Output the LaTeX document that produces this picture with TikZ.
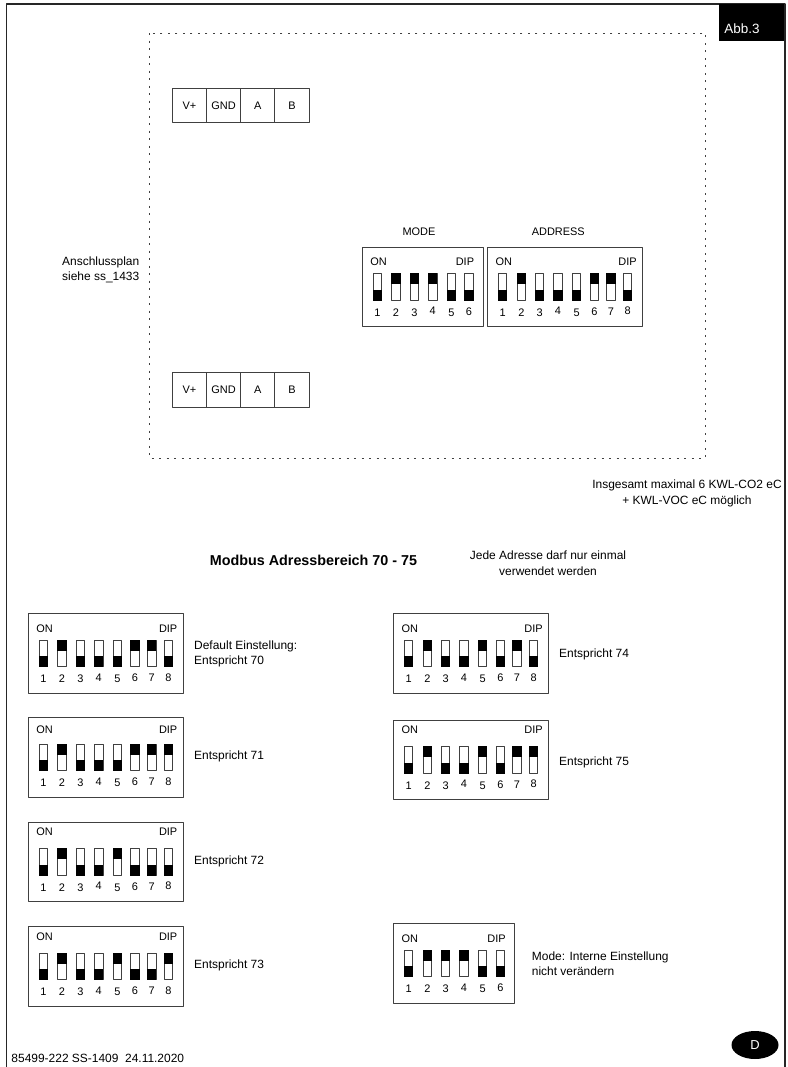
\documentclass[tikz,border=0pt]{standalone}
\usepackage{fontspec}
\setmainfont{Liberation Sans}
\usepackage{tikz}
\usetikzlibrary{shapes.geometric}
\definecolor{lineg}{rgb}{0.25,0.25,0.25}
\tikzset{
  txt/.style={inner sep=0pt,font=\fontsize{11}{14}\selectfont},
  note/.style={inner sep=0pt,font=\fontsize{12}{15.5}\selectfont},
  boxline/.style={line width=1bp,color=lineg},
  swline/.style={line width=0.7bp,color=lineg,fill=white},
  term/.style={txt,draw=lineg,line width=1bp,minimum width=34.2bp,minimum height=34.5bp},
  dotline/.style={line width=1bp,color=lineg,dash pattern=on 2bp off 5.5bp,line cap=butt}
}
% dip switch block: name, x, y, width, y of ON, states
\newcommand{\dipblock}[6]{
  \draw [boxline] (#2,#3) rectangle ++(#4,79.7);
  \node [txt] (#1on) at (#2+16.5,#3+#5) {ON};
  \node [txt,anchor=east] (#1dip) at (#2+#4-\ifdim#4pt>130pt 5.5\else 8.7\fi,#3+#5) {DIP};
  \foreach \s [count=\i] in {#6} {
    \pgfmathsetmacro{\swx}{{15.3,34,52.3,70.7,89.3,107,123.7,140.3}[\i-1]}
    \pgfmathsetmacro{\numy}{{65.5,65.5,65.5,64,65.5,64.5,64.5,64}[\i-1]}
    \draw [swline] (#2+\swx-4.2,#3+26.7) rectangle ++(8.4,26.7);
    \ifnum\s=1
      \fill [black] (#2+\swx-4.6,#3+26.4) rectangle ++(9.2,11);
    \else
      \fill [black] (#2+\swx-4.6,#3+42.6) rectangle ++(9.2,11);
    \fi
    \node [txt] (#1n\i) at (#2+\swx,#3+\numy) {\i};
  }
}
\begin{document}
\begin{tikzpicture}[line cap=round,line join=round,x=1bp,y=-1bp]
  \useasboundingbox (0,0) rectangle (788,1067);
  % outer frame
  \draw [line width=1.2bp,color=black!85] (6.7,1067) -- (6.7,4) -- (785,4) -- (785,1067);
  \node [fill=black,minimum width=65bp,minimum height=37bp,inner sep=0pt] (abbbox) at (751.7,22.5) {};
  \node [inner sep=0pt,font=\fontsize{13.5}{16}\selectfont,color=white] (abb) at (742,29) {Abb.3};
  % dotted outline
  \draw [dotline] (149,33) rectangle (705.7,458);
  % terminals
  \foreach \t/\c/\x in {vp/V+/189.4,gnd/GND/223.6,a/A/257.8,b/B/292} {
    \node [term] (top\t) at (\x,105.5) {\c};
    \node [term] (bot\t) at (\x,390.2) {\c};
  }
  \node [note,align=right,anchor=east] (plan) at (139.5,270) {Anschlussplan\\siehe ss\_1433};
  \node [txt] (modelab) at (419,231.7) {MODE};
  \node [txt] (addrlab) at (558.3,231.7) {ADDRESS};
  \dipblock{mode}{362}{247}{121}{14.7}{0,1,1,1,0,0}
  \dipblock{addr}{487.3}{247}{155}{14.7}{0,1,0,0,0,1,1,0}
  \node [note,align=center] (total) at (687,493.5) {Insgesamt maximal 6 KWL-CO2 eC\\+ KWL-VOC eC möglich};
  \node [inner sep=0pt,font=\fontsize{14.4}{17}\selectfont\bfseries] (head) at (313.5,560) {Modbus Adressbereich 70 - 75};
  \node [note,align=center] (once) at (548,563) {Jede Adresse darf nur einmal\\verwendet werden};
  % left column
  \dipblock{sa}{28}{613.3}{155}{15}{0,1,0,0,0,1,1,0}
  \dipblock{sb}{28}{717.3}{155}{12}{0,1,0,0,0,1,1,1}
  \dipblock{sc}{28}{822}{155}{9.7}{0,1,0,0,1,0,0,0}
  \dipblock{sd}{28}{926.3}{155}{10.3}{0,1,0,0,1,0,0,1}
  \node [note,align=left,anchor=west] (ta) at (194,654) {Default Einstellung:\\Entspricht 70};
  \node [note,anchor=west] (tb) at (194,756.7) {Entspricht 71};
  \node [note,anchor=west] (tc) at (194,861.7) {Entspricht 72};
  \node [note,anchor=west] (td) at (194,965) {Entspricht 73};
  % right column
  \dipblock{se}{393.3}{613.3}{155}{15}{0,1,0,0,1,0,1,0}
  \dipblock{sf}{393.3}{720}{155}{9.5}{0,1,0,0,1,0,1,1}
  \dipblock{sg}{393.3}{923.3}{121.3}{15.7}{0,1,1,1,0,0}
  \node [note,anchor=west] (te) at (559,654) {Entspricht 74};
  \node [note,anchor=west] (tf) at (559,762) {Entspricht 75};
  \node [note,align=left,anchor=west] (tg) at (531.7,963.5) {Mode: Interne Einstellung\\nicht verändern};
  % footer
  \node [note,anchor=west] (foot) at (11.3,1058) {85499-222 SS-1409\ \ 24.11.2020};
  \node [fill=black,ellipse,minimum width=47bp,minimum height=28bp,inner sep=0pt] (langoval) at (755,1045) {};
  \node [inner sep=0pt,font=\fontsize{13}{15}\selectfont,color=white] (lang) at (755,1045) {D};
\end{tikzpicture}
\end{document}
